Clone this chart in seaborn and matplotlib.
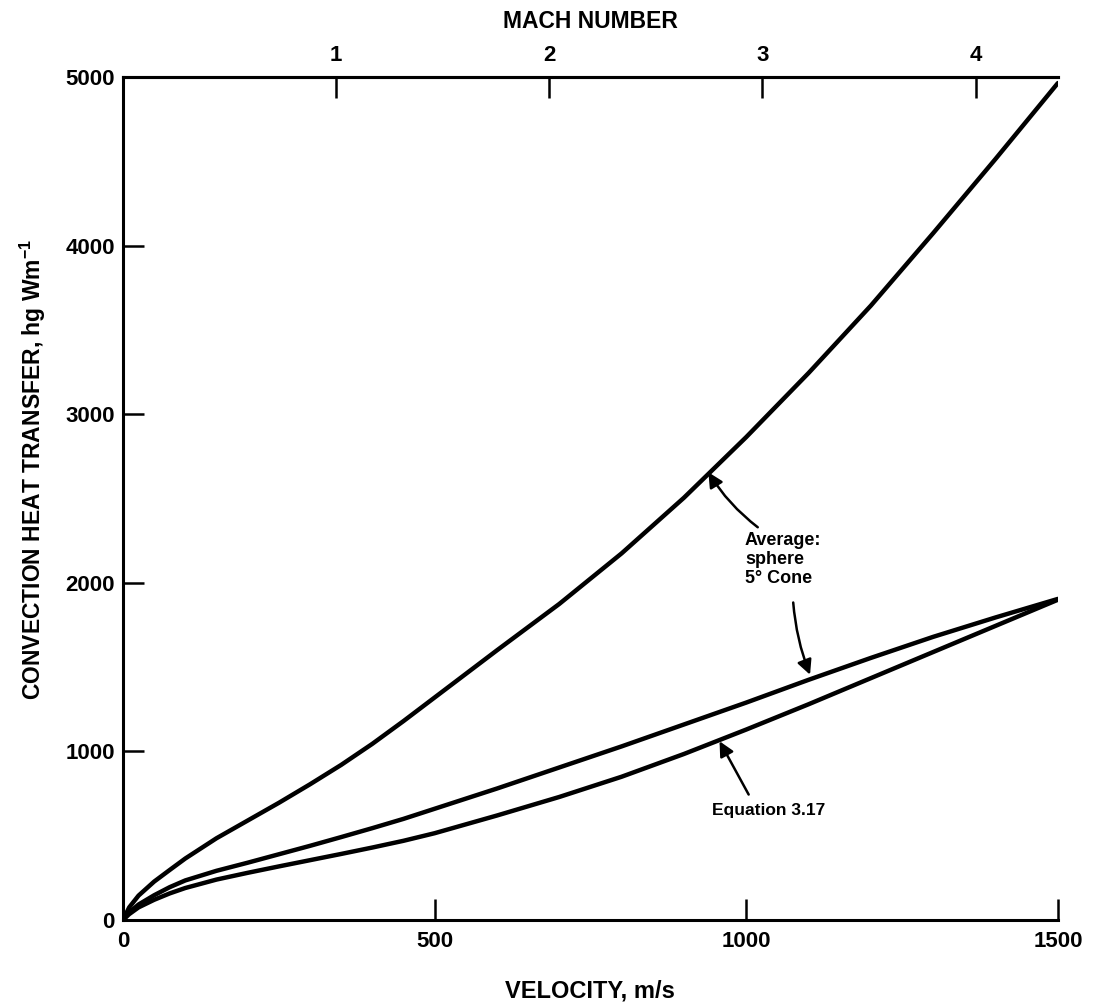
import pandas as pd
import matplotlib
matplotlib.use("Agg")
import matplotlib.pyplot as plt
import seaborn as sns

# Dados (velocidade em m/s, h em W/m)
velocidade = [0, 10, 25, 50, 75, 100, 150, 200, 250, 300, 350, 400, 450, 500,
              600, 700, 800, 900, 1000, 1100, 1200, 1300, 1400, 1500]
esfera = [0, 75, 145, 228, 297, 365, 485, 590, 695, 805, 920, 1045, 1180, 1320,
          1600, 1875, 2175, 2505, 2865, 3245, 3645, 4075, 4515, 4965]
cone = [0, 45, 92, 147, 195, 235, 292, 340, 390, 440, 492, 545, 600, 660,
        780, 905, 1030, 1160, 1290, 1425, 1555, 1680, 1795, 1905]
equacao = [0, 35, 75, 120, 158, 190, 240, 280, 318, 355, 392, 430, 470, 515,
           620, 730, 850, 985, 1130, 1280, 1435, 1590, 1745, 1900]

mach_ticks = [1, 2, 3, 4]
som = 342.0

df = pd.concat([
    pd.DataFrame({'v': velocidade, 'h': esfera, 'curva': 'esfera'}),
    pd.DataFrame({'v': velocidade, 'h': cone, 'curva': 'cone'}),
    pd.DataFrame({'v': velocidade, 'h': equacao, 'curva': 'equacao'}),
], ignore_index=True)

sns.set_style("ticks")
plt.rcParams['font.family'] = ['Liberation Sans', 'DejaVu Sans']
plt.rcParams['font.weight'] = 'bold'
plt.rcParams['mathtext.fontset'] = 'custom'
plt.rcParams['mathtext.rm'] = 'Liberation Sans:bold'
plt.rcParams['mathtext.it'] = 'Liberation Sans:bold'
plt.rcParams['mathtext.bf'] = 'Liberation Sans:bold'
for chave in ['text.color', 'axes.labelcolor', 'xtick.color', 'ytick.color', 'axes.edgecolor']:
    plt.rcParams[chave] = 'black'

fig = plt.figure(figsize=(10.94, 10.02), dpi=100)
ax = fig.add_axes([0.1124, 0.0818, 0.967 - 0.1124, 0.923 - 0.0818])

sns.lineplot(data=df, x='v', y='h', hue='curva', palette=['black'] * 3,
             linewidth=3.2, legend=False, ax=ax, solid_capstyle='round',
             solid_joinstyle='round')

ax.set_xlim(0, 1500)
ax.set_ylim(0, 5000)
ax.set_xticks([0, 500, 1000, 1500])
ax.set_yticks([0, 1000, 2000, 3000, 4000, 5000])
ax.tick_params(direction='in', length=15, width=1.8, labelsize=16, color='black')
ax.tick_params(axis='x', pad=8)
ax.tick_params(axis='y', pad=6)
for lado in ['left', 'bottom', 'top']:
    ax.spines[lado].set_linewidth(2.2)
ax.spines['right'].set_visible(False)

ax.set_xlabel('VELOCITY, m/s', fontsize=17, fontweight='bold', labelpad=20)
ax.set_ylabel(r'CONVECTION HEAT TRANSFER, hg Wm$^{-1}$', fontsize=16.5,
              fontweight='bold')
ax.yaxis.set_label_coords(-0.080, 0.534)

# Eixo superior - número de Mach
sec = ax.secondary_xaxis('top', functions=(lambda v: v / som, lambda m: m * som))
sec.set_xticks(mach_ticks)
sec.tick_params(direction='in', length=15, width=1.8, labelsize=16, pad=8)
sec.spines['top'].set_linewidth(2.2)
sec.set_xlabel('MACH NUMBER', fontsize=16.5, fontweight='bold', labelpad=12)

# Anotações
ax.text(998, 2300, 'Average:\nsphere\n5° Cone', fontsize=13, fontweight='bold',
        va='top', ha='left', linespacing=1.15)
ax.annotate('', xy=(937, 2670), xytext=(1022, 2320),
            arrowprops=dict(arrowstyle='-|>', color='black', lw=1.8,
                            mutation_scale=22, connectionstyle='arc3,rad=-0.1'))
ax.annotate('', xy=(1104, 1440), xytext=(1075, 1900),
            arrowprops=dict(arrowstyle='-|>', color='black', lw=1.8,
                            mutation_scale=22, connectionstyle='arc3,rad=0.08'))

ax.text(945, 650, 'Equation 3.17', fontsize=12.5, fontweight='bold',
        va='center', ha='left')
ax.annotate('', xy=(955, 1075), xytext=(1006, 730),
            arrowprops=dict(arrowstyle='-|>', color='black', lw=1.8,
                            mutation_scale=22))

plt.savefig('out.png', dpi=100)
plt.close()
